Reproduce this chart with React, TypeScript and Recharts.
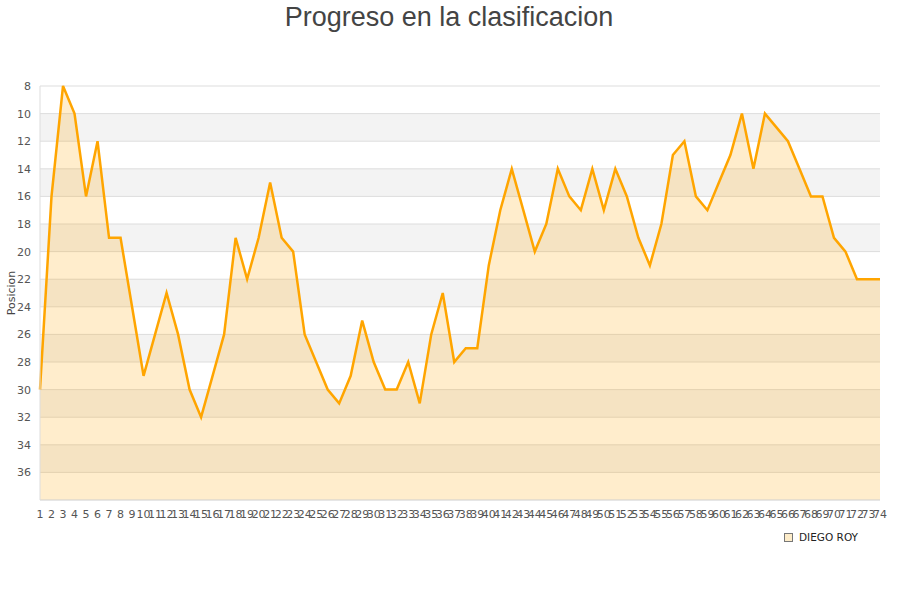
import { AreaChart, Area, XAxis, YAxis, CartesianGrid, Legend } from 'recharts';

const jornadas = [
  '1', '2', '3', '4', '5', '6', '7', '8', '9', '10',
  '11', '12', '13', '14', '15', '16', '17', '18', '19', '20',
  '21', '22', '23', '24', '25', '26', '27', '28', '29', '30',
  '31', '32', '33', '34', '35', '36', '37', '38', '39', '40',
  '41', '42', '43', '44', '45', '46', '47', '48', '49', '50',
  '51', '52', '53', '54', '55', '56', '57', '58', '59', '60',
  '61', '62', '63', '64', '65', '66', '67', '68', '69', '70',
  '71', '72', '73', '74',
];

const posiciones = [
  30, 16, 8, 10, 16, 12, 19, 19, 24, 29,
  26, 23, 26, 30, 32, 29, 26, 19, 22, 19,
  15, 19, 20, 26, 28, 30, 31, 29, 25, 28,
  30, 30, 28, 31, 26, 23, 28, 27, 27, 21,
  17, 14, 17, 20, 18, 14, 16, 17, 14, 17,
  14, 16, 19, 21, 18, 13, 12, 16, 17, 15,
  13, 10, 14, 10, 11, 12, 14, 16, 16, 19,
  20, 22, 22, 22,
];

const yTicks = [8, 10, 12, 14, 16, 18, 20, 22, 24, 26, 28, 30, 32, 34, 36];

const jugador = 'DIEGO ROY';

const data = jornadas.map((j, i) => ({ jornada: j, pos: posiciones[i] }));

const FONT = '"DejaVu Sans", sans-serif';

export default function App() {
  const renderYLabel = ({ viewBox }: any) => {
    const x = viewBox.x + 11;
    const y = viewBox.y + viewBox.height / 2;
    return (
      <text
        x={x}
        y={y}
        transform={`rotate(-90 ${x} ${y})`}
        textAnchor="middle"
        dominantBaseline="central"
        fontSize={11}
        fontFamily={FONT}
        fill="#444"
      >
        Posicion
      </text>
    );
  };

  // legend: small square + name, pushed to the right
  const renderLegend = (props: any) => {
    const { payload } = props;
    return (
      <div
        style={{
          display: 'flex',
          justifyContent: 'flex-end',
          alignItems: 'center',
          height: 16,
          paddingRight: 2,
          fontFamily: FONT,
          fontSize: 10.5,
          color: '#222',
        }}
      >
        {payload.map((entry: any, index: number) => (
          <span key={`legend-${index}`} style={{ display: 'flex', alignItems: 'center', gap: 6 }}>
            <span
              style={{
                display: 'inline-block',
                width: 7,
                height: 7,
                backgroundColor: '#fdecc9',
                border: '1px solid #777',
              }}
            />
            {entry.value}
          </span>
        ))}
      </div>
    );
  };

  return (
    <div style={{ position: 'absolute', left: 0, top: 0, width: 900, height: 600, background: '#fff' }}>
      <div
        style={{
          position: 'absolute',
          top: 4,
          left: 0,
          width: 898,
          textAlign: 'center',
          fontFamily: '"Liberation Sans", Arial, sans-serif',
          fontSize: 27,
          lineHeight: '27px',
          color: '#444',
        }}
      >
        Progreso en la clasificacion
      </div>
      <AreaChart
        width={900}
        height={600}
        data={data}
        margin={{ top: 86, right: 20, left: 0, bottom: 57 }}
      >
        <CartesianGrid
          vertical={false}
          stroke="#dddddd"
          horizontalFill={['#ffffff', '#f3f3f3']}
        />
        <XAxis
          dataKey="jornada"
          interval={0}
          tickLine={false}
          tickMargin={4}
          height={27}
          axisLine={{ stroke: '#dddddd' }}
          tick={{ fontSize: 11, fontFamily: FONT, fill: '#555' }}
        />
        <YAxis
          domain={[8, 38]}
          reversed
          ticks={yTicks}
          interval={0}
          width={40}
          tickLine={false}
          tickMargin={3}
          axisLine={{ stroke: '#dddddd' }}
          tick={{ fontSize: 11, fontFamily: FONT, fill: '#555' }}
          label={renderYLabel}
        />
        <YAxis
          yAxisId="borde"
          orientation="right"
          width={0}
          tick={false}
          tickLine={false}
          axisLine={{ stroke: '#dddddd' }}
        />
        <Legend
          verticalAlign="bottom"
          align="right"
          content={renderLegend}
          wrapperStyle={{ right: 40, bottom: 55 }}
        />
        <Area
          type="linear"
          dataKey="pos"
          name={jugador}
          stroke="#ffa500"
          strokeWidth={2.5}
          fill="#ffa500"
          fillOpacity={0.2}
          baseValue={38}
          dot={false}
          activeDot={false}
          isAnimationActive={false}
        />
      </AreaChart>
    </div>
  );
}
